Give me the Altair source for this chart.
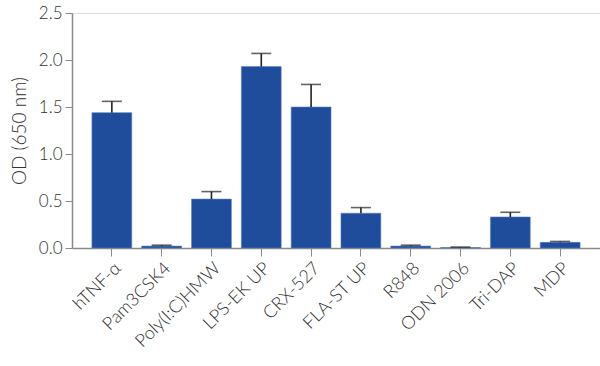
import altair as alt
import pandas as pd

categories = ["hTNF-α", "Pam3CSK4", "Poly(I:C)HMW", "LPS-EK UP", "CRX-527",
              "FLA-ST UP", "R848", "ODN 2006", "Tri-DAP", "MDP"]
values = [1.44, 0.02, 0.52, 1.93, 1.50, 0.37, 0.02, 0.005, 0.33, 0.06]
errors = [0.12, 0.01, 0.08, 0.14, 0.24, 0.06, 0.01, 0.005, 0.05, 0.01]

df = pd.DataFrame({
    "cat": categories,
    "val": values,
    "upper": [v + e for v, e in zip(values, errors)],
})

FONT = "Lato"
x = alt.X("cat:N", sort=categories, title=None,
          scale=alt.Scale(paddingInner=0.2, paddingOuter=0.4),
          axis=alt.Axis(labelAngle=-45, labelFontSize=18, labelFont=FONT,
                        labelFontWeight=300,
                        labelColor="#333", domainColor="#8a8a8a", tickColor="#8a8a8a",
                        tickSize=8, labelPadding=3, domainWidth=1.5))

y = alt.Y("val:Q", title="OD (650 nm)",
          scale=alt.Scale(domain=[0, 2.5], nice=False),
          axis=alt.Axis(values=[0, 0.5, 1.0, 1.5, 2.0, 2.5], format=".1f",
                        labelFontSize=17, labelFont=FONT, labelColor="#333",
                        labelFontWeight=300,
                        titleFont=FONT, titleFontSize=19, titleFontWeight=300,
                        titleColor="#333", titlePadding=9,
                        domainColor="#8a8a8a", tickColor="#8a8a8a", tickSize=7,
                        labelPadding=3, grid=False, domainWidth=1.5))

bars = alt.Chart(df).mark_bar(color="#204C9C", stroke="#5d7fbd", strokeWidth=0.6).encode(x=x, y=y)
rules = alt.Chart(df).mark_rule(color="#222", strokeWidth=1.6).encode(
    x=alt.X("cat:N", sort=categories), y="val:Q", y2="upper:Q")
caps = alt.Chart(df).mark_tick(color="#222", thickness=1.6, size=20).encode(
    x=alt.X("cat:N", sort=categories), y="upper:Q")

chart = alt.layer(bars, rules, caps).properties(
    width=528, height=235,
    padding={"left": 72, "top": 13, "right": 0, "bottom": 118},
    autosize=alt.AutoSizeParams(type="none"),
).configure_view(stroke=None).configure(background="white")

chart.save("out.html", embed_options={"renderer": "svg", "actions": False})
